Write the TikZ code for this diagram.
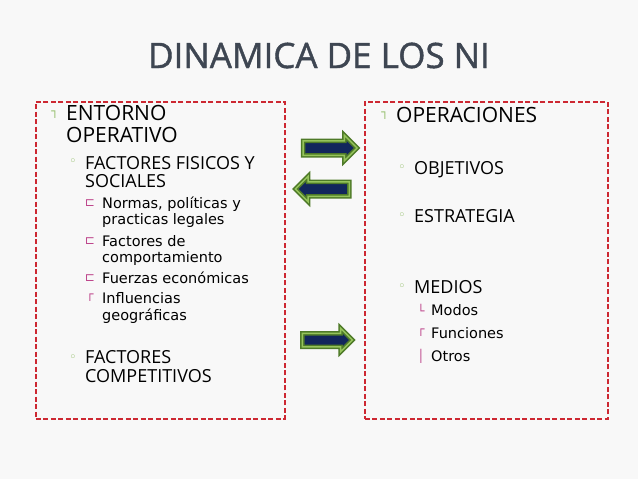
\documentclass[tikz,border=0pt]{standalone}
\usepackage{fontspec}
\setmainfont{Open Sans}
\newfontfamily\titlefont{Open Sans}[FakeBold=1.2]
\newfontfamily\itemfont{DejaVu Sans}
\usetikzlibrary{shapes.arrows}

\definecolor{bgpaper}{RGB}{248,248,248}
\definecolor{titlegray}{RGB}{62,70,82}
\definecolor{panelred}{RGB}{205,40,50}
\definecolor{arrownavy}{RGB}{18,38,92}
\definecolor{arrowgreen}{RGB}{78,122,40}
\definecolor{arrowlight}{RGB}{150,196,92}
\definecolor{bulgreen}{RGB}{150,192,110}
\definecolor{bulpink}{RGB}{190,70,140}

\begin{document}
\begin{tikzpicture}[
  x=1pt, y=-1pt,
  title/.style ={font=\titlefont\fontsize{35}{40}\selectfont, text=titlegray, inner sep=0pt},
  lvlA/.style  ={font=\fontsize{21}{24}\selectfont, anchor=base west, inner sep=0pt},
  lvlB/.style  ={font=\fontsize{18}{20}\selectfont, anchor=base west, inner sep=0pt},
  lvlC/.style  ={font=\itemfont\fontsize{14.5}{16}\selectfont, anchor=base west, inner sep=0pt},
  mkA/.style   ={font=\itemfont\fontsize{12}{12}\selectfont, text=bulgreen, inner sep=0pt},
  mkB/.style   ={font=\itemfont\fontsize{13}{13}\selectfont, text=bulgreen, inner sep=0pt},
  mkC/.style   ={font=\itemfont\fontsize{12}{12}\selectfont, text=bulpink, inner sep=0pt},
  panel/.style ={draw=panelred, line width=1.8pt, dash pattern=on 5pt off 2.5pt,
                 anchor=north west, minimum height=317pt},
  flow/.style  ={single arrow, fill=arrownavy, draw=arrowgreen, double=arrowlight,
                 double distance=1.5pt, line width=1.5pt, text height=0pt, text depth=0pt,
                 inner xsep=0pt, inner ysep=6.5pt, single arrow head extend=5.5pt,
                 minimum height=54pt},
]
\fill[bgpaper] (0,0) rectangle (638,479);

\node[title] (title) at (319,55.5) {DINAMICA DE LOS NI};

% two panels
\node[panel, minimum width=249pt] (entorno) at (35,101) {};
\node[panel, minimum width=243pt] (oper) at (364,101) {};

% arrows between the panels
\node[flow] (toOper) at (326.5,148) {};
\node[flow, shape border rotate=180] (toEntorno) at (326,189) {};
\node[flow, minimum height=50pt, inner ysep=6pt, single arrow head extend=5pt]
  (toMedios) at (324,340) {};

% left panel
\node[mkA] (mkEnt) at (55,115) {┐};
\node[lvlA] (ent1) at (66,120) {ENTORNO};
\node[lvlA] (ent2) at (66,142) {OPERATIVO};

\node[mkB] (mkFis) at (73,162) {◦};
\node[lvlB] (fis1) at (85,169) {FACTORES FISICOS Y};
\node[lvlB] (fis2) at (85,187) {SOCIALES};

\foreach \y/\m [count=\i] in {208/⊏, 246/⊏, 283/⊏, 303/┌}
  \node[mkC] (mkL\i) at (90,\y-5) {\m};
\foreach \y/\t [count=\i] in {208/{Normas, políticas y}, 224/{practicas legales},
                             246/{Factores de}, 262/{comportamiento},
                             283/{Fuerzas económicas}, 303/{Influencias}, 320/{geográficas}}
  \node[lvlC] (fisL\i) at (102,\y) {\t};

\node[mkB] (mkCom) at (73,358) {◦};
\node[lvlB] (com1) at (85,363) {FACTORES};
\node[lvlB] (com2) at (85,382) {COMPETITIVOS};

% right panel
\node[mkA] (mkOp) at (385,116) {┐};
\node[lvlA] (op) at (396,122) {OPERACIONES};

\foreach \y/\t [count=\i] in {174/OBJETIVOS, 222/ESTRATEGIA, 293/MEDIOS} {
  \node[mkB] (mkR\i) at (402,\y-6) {◦};
  \node[lvlB] (opB\i) at (414,\y) {\t};
}
\foreach \y/\m/\t [count=\i] in {315/└/Modos, 338/┌/Funciones, 361/│/Otros} {
  \node[mkC] (mkM\i) at (421,\y-5) {\m};
  \node[lvlC] (med\i) at (431,\y) {\t};
}
\end{tikzpicture}
\end{document}
